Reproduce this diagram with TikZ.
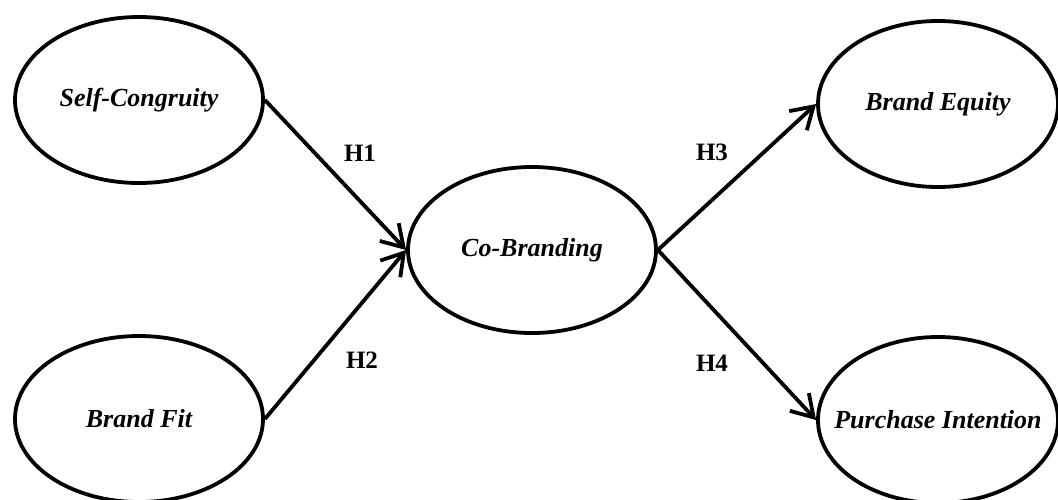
\documentclass[tikz,border=0pt]{standalone}
\usepackage{fontspec}
\setmainfont{Liberation Serif}
\usetikzlibrary{shapes.geometric,arrows.meta}
\tikzset{
  construct/.style={draw=black, line width=3.8pt, ellipse, inner sep=0pt,
    minimum width=248pt, minimum height=166pt},
  constructR/.style={construct, minimum width=240pt},
  ctext/.style={font=\fontsize{26}{30}\selectfont\bfseries\itshape, inner sep=0pt},
  hyp/.style={font=\fontsize{25}{30}\selectfont\bfseries, inner sep=0pt},
  path/.style={draw=black, line width=3.8pt,
    -{Straight Barb[length=21pt,width=26pt,line width=3.8pt]}}
}
\begin{document}
\begin{tikzpicture}[x=1pt,y=-1pt]
\useasboundingbox (0,0) rectangle (1058,499);
\node[construct, label={[ctext]center:Self-Congruity}] (sc) at (139,100) {};
\node[construct, label={[ctext]center:Brand Fit}] (bf) at (139,419) {};
\node[construct, label={[ctext]center:Co-Branding}] (cb) at (532,250) {};
\node[constructR, label={[ctext]center:Brand Equity}] (be) at (938,104) {};
\node[constructR, label={[ctext]center:Purchase Intention}] (pi) at (938,420) {};
\draw[path] (sc.east) -- (cb.west);
\draw[path] (bf.east) -- (cb.west);
\draw[path] (cb.east) -- (be.west);
\draw[path] (cb.east) -- (pi.west);
\node[hyp] (h1) at (360,153) {H1};
\node[hyp] (h2) at (362,360) {H2};
\node[hyp] (h3) at (712,152) {H3};
\node[hyp] (h4) at (712,363) {H4};
\end{tikzpicture}
\end{document}
